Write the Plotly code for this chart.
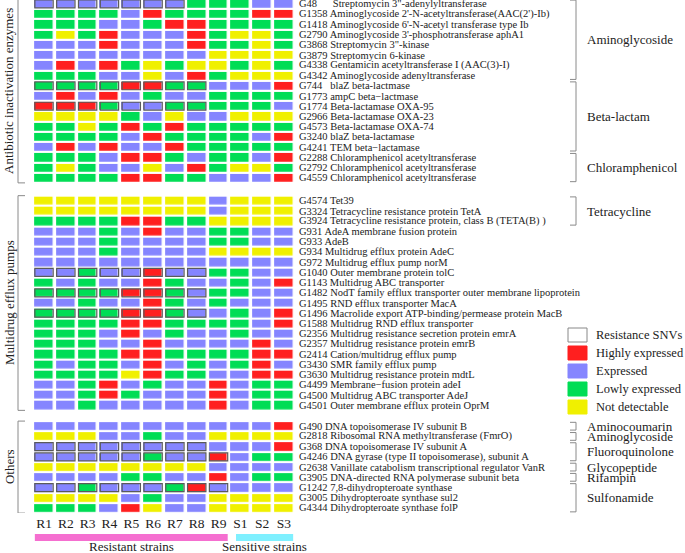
import plotly.graph_objects as go

W, H = 685, 553
strains = ["R1", "R2", "R3", "R4", "R5", "R6", "R7", "R8", "R9", "S1", "S2", "S3"]

# ---- Group 1: antibiotic inactivation enzymes ----
g1_ids = ["G48", "G1358", "G1418", "G2790", "G3868", "G3879", "G4338", "G4342",
          "G744", "G1773", "G1774", "G2966", "G4573", "G3240", "G4241",
          "G2288", "G2792", "G4559"]
g1_names = ["\u00a0\u00a0\u00a0\u00a0 Streptomycin 3\"-adenylyltransferase",
            "Aminoglycoside 2'-N-acetyltransferase(AAC(2')-Ib)",
            "Aminoglycoside 6'-N-acetyl transferase type Ib",
            "Aminoglycoside 3'-phosphotransferase aphA1",
            "Streptomycin 3\"-kinase",
            "Streptomycin 6-kinase",
            "Gentamicin acetyltransferase I (AAC(3)-I)",
            "Aminoglycoside adenyltransferase",
            "\u00a0 blaZ beta-lactmase",
            "ampC beta\u2212lactmase",
            "Beta-lactamase OXA-95",
            "Beta-lactamase OXA-23",
            "Beta-lactamase OXA-74",
            "blaZ beta-lactamase",
            "TEM beta\u2212lactamase",
            "Chloramphenicol acetyltransferase",
            "Chloramphenicol acetyltransferase",
            "Chloramphenicol acetyltransferase"]
g1_status = ["BBBBBBBGGGBB", "GGGGBRGGGGRR", "GGGBBGRRGGGG", "GYGRBBBRGYYG",
             "BBBRBBBRGGYG", "BBBBBBBBYYYY", "BRBRGYGYYGYG", "GGGBBYBRGYYY",
             "GGGGRRGGBBBR", "BRBRBGBBGGGG", "RRRGBBGGGGGB", "YYYYGBYBBYYY",
             "GGYGRGRGGGGG", "GGGGBRGGGGBR", "BRBRBBRGGGGG",
             "GGGBRRGBGGBR", "GYGBBYBRGYYG", "GGGGRRGGBBBR"]
g1_snv = ["111111100000", "000000000000", "000000000000", "000000000000",
          "000000000000", "000000000000", "000000000000", "000000000000",
          "111111110000", "000000000000", "111111110000", "000000000000",
          "000000000000", "000000000000", "000000000000",
          "000000000000", "000000000000", "000000000000"]
g1_classes = [("Aminoglycoside", 0, 7), ("Beta-lactam", 8, 14), ("Chloramphenicol", 15, 17)]

# ---- Group 2: multidrug efflux pumps ----
g2_ids = ["G4574", "G3324", "G3924", "G931", "G933", "G934", "G972", "G1040", "G1143",
          "G1482", "G1495", "G1496", "G1588", "G2356", "G2357", "G2414", "G3430",
          "G3630", "G4499", "G4500", "G4501"]
g2_names = ["Tet39",
            "Tetracycline resistance protein TetA",
            "Tetracycline resistance protein, class B (TETA(B) )",
            "AdeA membrane fusion protein",
            "AdeB",
            "Multidrug efflux protein AdeC",
            "Multidrug efflux pump norM",
            "Outer membrane protein tolC",
            "Multidrug ABC transporter",
            "NodT family efflux transporter outer membrane lipoprotein",
            "RND efflux transporter MacA",
            "Macrolide export ATP-binding/permease protein MacB",
            "Multidrug RND efflux transporter",
            "Multidrug resistance secretion protein emrA",
            "Multidrug resistance protein emrB",
            "Cation/multidrug efflux pump",
            "SMR family efflux pump",
            "Multidrug resistance protein mdtL",
            "Membrane\u2212fusion protein adeI",
            "Multidrug ABC transporter AdeJ",
            "Outer membrane efflux protein OprM"]
g2_status = ["YYYYYYYYBYYY", "YYYYYYYYBYYY", "GGGGRRGGYYYY", "BBBGBRBBGGBB",
             "BBBGBBBBGGBB", "BBBGBBBBYYYY", "BBBBBBBBBBBB", "BBGBBRBBGGBB",
             "GBGBBRGBBGBR", "GGGGRRGBGGBB", "BBGBBRGBGBBB", "GGGGRRGBBGBR",
             "GGGGRRGGGGBR", "GGGBRBGBBGBB", "GGGBBRBBBBRB", "GGGGRRGGGGRR",
             "GBGGBRBGBGRB", "GGGGYRGGBBRR", "BBGRBGBBRBGG", "BBGRGBBBRBGG",
             "BBGBBBBBRBGG"]
g2_snv = ["000000000000"] * 7 + ["111111110000", "000000000000", "111111110000",
                                   "000000000000", "111111110000"] + ["000000000000"] * 9
g2_classes = [("Tetracycline", 0, 2)]

# ---- Group 3: others ----
g3_ids = ["G490", "G2818", "G368", "G4246", "G2638", "G3905", "G1242", "G3005", "G4344"]
g3_names = ["DNA topoisomerase IV subunit B",
            "Ribosomal RNA methyltransferase (FmrO)",
            "DNA topoisomerase IV subunit A",
            "DNA gyrase (type II topoisomerase), subunit A",
            "Vanillate catabolism transcriptional regulator VanR",
            "DNA-directed RNA polymerase subunit beta",
            "7,8-dihydropteroate synthase",
            "Dihydropteroate synthase sul2",
            "Dihydropteroate synthase folP"]
g3_status = ["BBBBBBBBBBBR", "YYYBBGBBYYYY", "BBBBBBBBBBBR", "BBBBBGBBRBGG",
             "YYYYYYYYBBBB", "BBBBGGBBRBGG", "BBGBBBGRBBBB", "YYYYBGBBYYYY",
             "GGGBRYBBYYYY"]
g3_snv = ["000000000000", "000000000000", "111111110000", "111111111000",
          "000000000000", "000000000000", "111111111000", "000000000000",
          "000000000000"]
g3_classes = [("Aminocoumarin", 0, 0), ("Aminoglycoside", 1, 1), ("Fluoroquinolone", 2, 3),
              ("Glycopeptide", 4, 4), ("Rifampin", 5, 5), ("Sulfonamide", 6, 8)]

group_titles = ["Antibiotic inactivation enzymes", "Multidrug efflux pumps", "Others"]
status_code = {"Y": 0, "G": 1, "B": 2, "R": 3}
legend_items = [("Resistance SNVs", "#ffffff"), ("Highly expressed", "#ff1f1f"),
                ("Expressed", "#8585ff"), ("Lowly expressed", "#00dd55"),
                ("Not detectable", "#f0f000")]
col_groups = [("Resistant strains", 0, 8, "#f56fd0"), ("Sensitive strains", 9, 11, "#7ff0ff")]

# ---- layout helpers ----
FONT = "Liberation Serif"
TXT = "#222222"
BR = "#8a8a8a"
colorscale = [[0, "#f0f000"], [1 / 3, "#00dd55"], [2 / 3, "#8585ff"], [1, "#ff1f1f"]]
offsets = [0.0, 19.25, 41.3]
groups = [(g1_ids, g1_names, g1_status, g1_snv, g1_classes),
          (g2_ids, g2_names, g2_status, g2_snv, g2_classes),
          (g3_ids, g3_names, g3_status, g3_snv, g3_classes)]


def px(x):
    return x / W


def py(y):
    return 1 - y / H


fig = go.Figure()
shapes = []
annotations = []
hx, hy = 0.42, 0.39

for gi, (ids, names, status, snv, classes) in enumerate(groups):
    off = offsets[gi]
    ys = [off + i for i in range(len(ids))]
    z = [[status_code[c] for c in row] for row in status]
    fig.add_trace(go.Heatmap(x=list(range(len(strains))), y=ys, z=z,
                             colorscale=colorscale, zmin=0, zmax=3, showscale=False,
                             xgap=3.5, ygap=2.2, hoverinfo="skip"))
    for i, row in enumerate(snv):
        for j, flag in enumerate(row):
            if flag == "1":
                shapes.append(dict(type="rect", xref="x", yref="y",
                                   x0=j - hx, x1=j + hx, y0=ys[i] - hy, y1=ys[i] + hy,
                                   line=dict(color="#5a5a5a", width=1.2)))
    for i, (gid, nm) in enumerate(zip(ids, names)):
        annotations.append(dict(x=px(297), xref="paper", y=ys[i], yref="y",
                                text=gid + " " + nm, showarrow=False, xanchor="left",
                                yanchor="middle", font=dict(family=FONT, size=10.5, color=TXT)))
    # left group bracket + title
    y0, y1 = ys[0] - 0.5, ys[-1] + 0.5
    shapes.append(dict(type="line", xref="paper", yref="y", x0=px(18), x1=px(18), y0=y0, y1=y1,
                       line=dict(color=BR, width=1)))
    for yy in (y0, y1):
        shapes.append(dict(type="line", xref="paper", yref="y", x0=px(18), x1=px(25), y0=yy, y1=yy,
                           line=dict(color=BR, width=1)))
    annotations.append(dict(x=px(9), xref="paper", y=(ys[0] + ys[-1]) / 2, yref="y",
                            text=group_titles[gi], textangle=-90, showarrow=False,
                            xanchor="center", yanchor="middle",
                            font=dict(family=FONT, size=13, color=TXT)))
    # right class brackets
    for name, a, b in classes:
        ya, yb = ys[a] - 0.38, ys[b] + 0.38
        shapes.append(dict(type="line", xref="paper", yref="y", x0=px(576), x1=px(576),
                           y0=ya, y1=yb, line=dict(color=BR, width=1)))
        for yy in (ya, yb):
            shapes.append(dict(type="line", xref="paper", yref="y", x0=px(570), x1=px(576),
                               y0=yy, y1=yy, line=dict(color=BR, width=1)))
        annotations.append(dict(x=px(585), xref="paper", y=(ys[a] + ys[b]) / 2, yref="y",
                                text=name, showarrow=False, xanchor="left", yanchor="middle",
                                font=dict(family=FONT, size=13, color=TXT)))

# legend
for k, (lab, col) in enumerate(legend_items):
    yc = 335 + 18 * k
    shapes.append(dict(type="rect", xref="paper", yref="paper", x0=px(568), x1=px(587),
                       y0=py(yc - 7), y1=py(yc + 7), fillcolor=col,
                       line=dict(color="#888888" if k == 0 else col, width=1)))
    annotations.append(dict(x=px(594), xref="paper", y=py(yc), yref="paper", text=lab,
                            showarrow=False, xanchor="left", yanchor="middle",
                            font=dict(family=FONT, size=12.5, color=TXT)))

# strain group bars
for k, (lab, a, b, col) in enumerate(col_groups):
    x0 = a - hx if k == 0 else a - 0.2
    shapes.append(dict(type="rect", xref="x", yref="paper", x0=x0, x1=b + hx,
                       y0=py(541), y1=py(534), fillcolor=col, line=dict(width=0)))
    annotations.append(dict(x=(x0 + b + hx) / 2, xref="x", y=py(546.5), yref="paper", text=lab,
                            showarrow=False, xanchor="center", yanchor="middle",
                            font=dict(family=FONT, size=13, color=TXT)))

fig.update_layout(
    width=W, height=H, margin=dict(l=0, r=0, t=0, b=0),
    paper_bgcolor="white", plot_bgcolor="white",
    shapes=shapes, annotations=annotations, showlegend=False,
    xaxis=dict(domain=[px(33.1), px(294.9)], range=[-0.5, 11.5], tickmode="array",
               tickvals=list(range(len(strains))), ticktext=strains, showgrid=False,
               zeroline=False, showline=False, ticks="",
               tickfont=dict(family=FONT, size=13.5, color=TXT), fixedrange=True),
    yaxis=dict(domain=[py(513.1), 1], range=[49.8, -0.39], showgrid=False, zeroline=False,
               showticklabels=False, showline=False, ticks="", fixedrange=True),
)

fig.write_html("out.html", config={"displayModeBar": False},
               post_script="document.body.style.margin='0';")
